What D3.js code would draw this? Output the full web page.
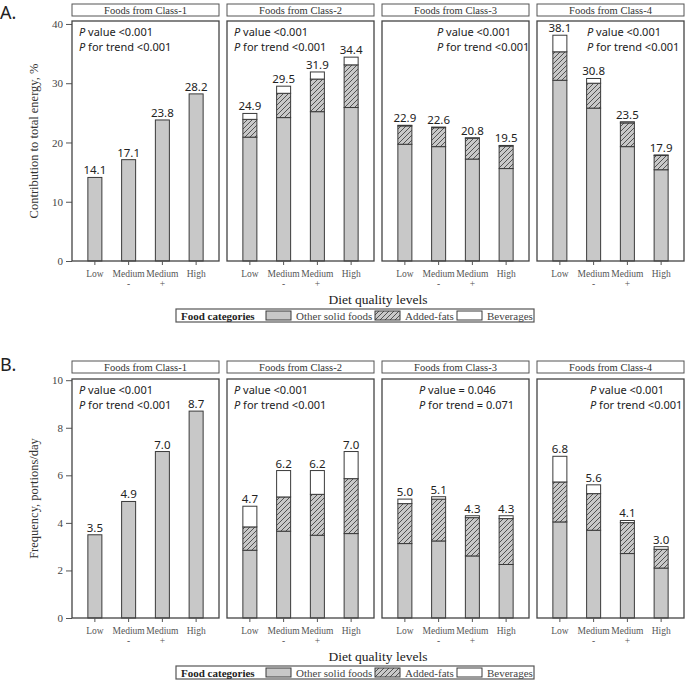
<!DOCTYPE html>
<html><head><meta charset="utf-8">
<script src="https://cdn.jsdelivr.net/npm/d3@7"></script>
<style>
body{margin:0;background:#fff}
svg{display:block}
</style></head>
<body>
<script>
// ---------- DATA ----------
const levels = ["Low", "Medium -", "Medium +", "High"];
const levelLines = [["Low"], ["Medium", "-"], ["Medium", "+"], ["High"]];
const panelTitles = ["Foods from Class-1", "Foods from Class-2", "Foods from Class-3", "Foods from Class-4"];
const segmentNames = ["Other solid foods", "Added-fats", "Beverages"];

// A. Contribution to total energy, %
const energyOtherSolid = [[14.1, 17.1, 23.8, 28.2], [20.9, 24.2, 25.2, 25.9], [19.7, 19.3, 17.2, 15.6], [30.5, 25.8, 19.3, 15.4]];
const energyAddedFats  = [[0, 0, 0, 0], [3.0, 4.1, 5.5, 7.2], [3.1, 3.2, 3.5, 3.8], [4.8, 4.2, 4.0, 2.4]];
const energyBeverages  = [[0, 0, 0, 0], [1.0, 1.2, 1.2, 1.3], [0.1, 0.1, 0.1, 0.1], [2.8, 0.8, 0.2, 0.1]];
const energyTotals     = [["14.1", "17.1", "23.8", "28.2"], ["24.9", "29.5", "31.9", "34.4"], ["22.9", "22.6", "20.8", "19.5"], ["38.1", "30.8", "23.5", "17.9"]];
const energyTicks = [0, 10, 20, 30, 40];
const energyPValue = ["<0.001", "<0.001", "<0.001", "<0.001"];
const energyPTrend = ["<0.001", "<0.001", "<0.001", "<0.001"];

// B. Frequency, portions/day
const freqOtherSolid = [[3.5, 4.9, 7.0, 8.7], [2.85, 3.65, 3.48, 3.55], [3.13, 3.24, 2.61, 2.25], [4.04, 3.69, 2.71, 2.10]];
const freqAddedFats  = [[0, 0, 0, 0], [0.98, 1.44, 1.72, 2.31], [1.68, 1.76, 1.61, 1.93], [1.68, 1.54, 1.30, 0.79]];
const freqBeverages  = [[0, 0, 0, 0], [0.87, 1.11, 1.00, 1.14], [0.19, 0.10, 0.08, 0.12], [1.08, 0.37, 0.09, 0.11]];
const freqTotals     = [["3.5", "4.9", "7.0", "8.7"], ["4.7", "6.2", "6.2", "7.0"], ["5.0", "5.1", "4.3", "4.3"], ["6.8", "5.6", "4.1", "3.0"]];
const freqTicks = [0, 2, 4, 6, 8, 10];
const freqPValue = ["<0.001", "<0.001", "= 0.046", "<0.001"];
const freqPTrend = ["<0.001", "<0.001", "= 0.071", "<0.001"];

// ---------- LAYOUT ----------
const W = 685, H = 681;
const serif = "'Liberation Serif','DejaVu Serif',serif";
const sans = "'Noto Sans','Open Sans',sans-serif";
const GRAY = "#c8c8c8", DARK = "#3a3a3a";

const svg = d3.select("body").append("svg").attr("width", W).attr("height", H);

const defs = svg.append("defs");
const pat = defs.append("pattern").attr("id", "hatch").attr("patternUnits", "userSpaceOnUse")
  .attr("width", 5).attr("height", 5);
pat.append("rect").attr("width", 5).attr("height", 5).attr("fill", GRAY);
pat.append("path").attr("d", "M-1,1 L1,-1 M0,5 L5,0 M4,6 L6,4")
  .attr("stroke", "#333").attr("stroke-width", 0.8);

const segFills = [GRAY, "url(#hatch)", "#fff"];

const panelX = d3.scaleBand().domain(panelTitles).range([72, 684]).paddingInner(8 / 155).paddingOuter(0);
const barX = d3.scaleBand().domain(levels).range([0, panelX.bandwidth()]).paddingInner(0.585).paddingOuter(0.47);

const sections = [
  { letter: "A.", letterY: 19, headerY: 4, headerH: 12, top: 21, bottom: 261, yMax: 40.5, ticks: energyTicks,
    other: energyOtherSolid, fats: energyAddedFats, bev: energyBeverages, totals: energyTotals,
    pv: energyPValue, pt: energyPTrend, pX: [7, 7, 55, 50],
    ylabel: "Contribution to total energy, %", xlabY: 304, legY: 309 },
  { letter: "B.", letterY: 371, headerY: 361, headerH: 12, top: 379, bottom: 618, yMax: 10.05, ticks: freqTicks,
    other: freqOtherSolid, fats: freqAddedFats, bev: freqBeverages, totals: freqTotals,
    pv: freqPValue, pt: freqPTrend, pX: [7, 7, 37, 53],
    ylabel: "Frequency, portions/day", xlabY: 661, legY: 666 }
];

sections.forEach(sec => {
  const y = d3.scaleLinear().domain([0, sec.yMax]).range([sec.bottom, sec.top]);
  const g = svg.append("g");

  g.append("text").attr("x", 0).attr("y", sec.letterY).attr("font-family", sans)
    .attr("font-size", 18).attr("fill", "#222").text(sec.letter);

  // y axis
  const yAxis = g.append("g").attr("transform", `translate(${panelX.range()[0]},0)`)
    .call(d3.axisLeft(y).tickValues(sec.ticks).tickSize(6).tickPadding(3).tickFormat(d3.format("d")));
  yAxis.select(".domain").remove();
  yAxis.selectAll("line").attr("stroke", "#555");
  yAxis.selectAll("text").attr("font-family", serif).attr("font-size", 11).attr("fill", "#444");

  g.append("text").attr("transform", `translate(38,${(sec.top + sec.bottom) / 2}) rotate(-90)`)
    .attr("text-anchor", "middle").attr("font-family", serif).attr("font-size", 12.5).attr("fill", "#333")
    .text(sec.ylabel);

  panelTitles.forEach((title, pi) => {
    const px = panelX(title), pw = panelX.bandwidth();
    const pg = g.append("g").attr("transform", `translate(${px},0)`);

    // header strip
    pg.append("rect").attr("x", 0).attr("y", sec.headerY).attr("width", pw).attr("height", sec.headerH)
      .attr("fill", "#fff").attr("stroke", "#555").attr("stroke-width", 1);
    pg.append("text").attr("x", pw / 2).attr("y", sec.headerY + sec.headerH - 2.5).attr("text-anchor", "middle")
      .attr("font-family", serif).attr("font-size", 10.5).attr("fill", "#333").text(title);

    // bars
    levels.forEach((lv, li) => {
      const vals = [sec.other[pi][li], sec.fats[pi][li], sec.bev[pi][li]];
      let cum = 0;
      vals.forEach((v, si) => {
        if (v <= 0) return;
        pg.append("rect").attr("x", barX(lv)).attr("width", barX.bandwidth())
          .attr("y", y(cum + v)).attr("height", y(cum) - y(cum + v))
          .attr("fill", segFills[si]).attr("stroke", DARK).attr("stroke-width", 1);
        cum += v;
      });
      pg.append("text").attr("x", barX(lv) + barX.bandwidth() / 2).attr("y", y(cum) - 3)
        .attr("text-anchor", "middle").attr("font-family", sans).attr("font-size", 11.5).attr("fill", "#222")
        .text(sec.totals[pi][li]);
    });

    // panel border
    pg.append("rect").attr("x", 0).attr("y", sec.top).attr("width", pw).attr("height", sec.bottom - sec.top)
      .attr("fill", "none").attr("stroke", "#444").attr("stroke-width", 1.3);

    // x axis
    const xa = pg.append("g").attr("transform", `translate(0,${sec.bottom})`)
      .call(d3.axisBottom(barX).tickSize(4).tickPadding(4).tickFormat(""));
    xa.select(".domain").remove();
    xa.selectAll("line").attr("stroke", "#555");
    xa.selectAll(".tick").each(function (d, i) {
      const t = d3.select(this).append("text").attr("text-anchor", "middle")
        .attr("font-family", serif).attr("font-size", 9.5).attr("fill", "#555");
      levelLines[i].forEach((ln, k) => {
        t.append("tspan").attr("x", 0).attr("y", 16 + k * 9.5).text(ln);
      });
    });

    // p-value annotation
    const ann = pg.append("text").attr("font-family", sans).attr("font-size", 11).attr("fill", "#222");
    const l1 = ann.append("tspan").attr("x", sec.pX[pi]).attr("y", sec.top + 15);
    l1.append("tspan").attr("font-style", "italic").text("P");
    l1.append("tspan").text(" value " + sec.pv[pi]);
    const l2 = ann.append("tspan").attr("x", sec.pX[pi]).attr("y", sec.top + 30);
    l2.append("tspan").attr("font-style", "italic").text("P");
    l2.append("tspan").text(" for trend " + sec.pt[pi]);
  });

  // x title
  g.append("text").attr("x", (panelX.range()[0] + panelX.range()[1]) / 2).attr("y", sec.xlabY)
    .attr("text-anchor", "middle").attr("font-family", serif).attr("font-size", 13.5).attr("fill", "#222")
    .text("Diet quality levels");

  // legend
  const lg = g.append("g").attr("transform", `translate(176,${sec.legY})`);
  lg.append("rect").attr("width", 358).attr("height", 13).attr("fill", "#fff").attr("stroke", "#555").attr("stroke-width", 1.2);
  lg.append("text").attr("x", 5).attr("y", 10.5).attr("font-family", serif).attr("font-weight", "bold")
    .attr("font-size", 11).attr("fill", "#222").text("Food categories");
  const swX = [90, 199, 281];
  segmentNames.forEach((nm, i) => {
    lg.append("rect").attr("x", swX[i]).attr("y", 2).attr("width", 25).attr("height", 9)
      .attr("fill", segFills[i]).attr("stroke", DARK).attr("stroke-width", 1);
    lg.append("text").attr("x", swX[i] + 30).attr("y", 10.5).attr("font-family", serif)
      .attr("font-size", 11).attr("fill", "#444").text(nm);
  });
});
</script>
</body></html>
